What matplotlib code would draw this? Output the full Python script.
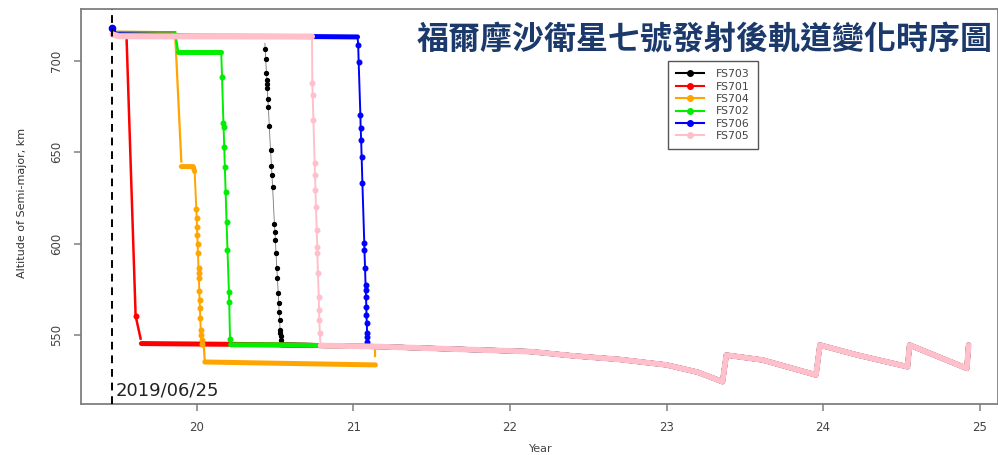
import matplotlib
matplotlib.use("Agg")
import matplotlib.pyplot as plt
from matplotlib.lines import Line2D

plt.rcParams['font.family'] = ['DejaVu Sans']

# ---------------- data (year offset since 2000, altitude km) ----------------
launch_year = 19.458
launch_label = "2019/06/25"
title_text = "福爾摩沙衛星七號發射後軌道變化時序圖"
names = ["FS703", "FS701", "FS704", "FS702", "FS706", "FS705"]
colors = ["black", "red", "orange", "#00ee00", "#0000ff", "pink"]

# shared mission-orbit track (after orbit raising / lowering)
common_t = [19.645, 20.2, 20.5, 20.79, 21.17, 21.49, 21.81, 22.13, 22.40, 22.70,
            23.00, 23.20, 23.358, 23.382, 23.614, 23.955, 23.98, 24.22, 24.54,
            24.553, 24.919, 24.93]
common_alt = [545.3, 544.9, 544.6, 544.2, 543.6, 542.7, 541.8, 540.9, 538.6, 536.6,
              533.6, 529.6, 524.4, 539.0, 536.3, 528.1, 544.5, 539.0, 532.6,
              544.5, 531.7, 544.5]

# FS703 (black)
fs703_park_t = [19.46, 20.434]
fs703_park_alt = [713.6, 713.4]
fs703_drop_t = [20.434, 20.436, 20.439, 20.444, 20.447, 20.448, 20.449, 20.453, 20.456,
                20.462, 20.470, 20.476, 20.479, 20.483, 20.495, 20.498, 20.501, 20.505,
                20.510, 20.514, 20.519, 20.522, 20.525, 20.528, 20.531, 20.532, 20.534,
                20.535]
fs703_drop_alt = [709.7, 706.4, 701.0, 693.3, 689.6, 687.5, 685.1, 679.2, 675.0,
                  664.4, 651.3, 642.5, 637.6, 631.2, 610.8, 606.6, 602.1, 594.8,
                  586.5, 581.1, 572.9, 567.4, 562.8, 558.3, 552.8, 551.0, 549.2, 547.3]
fs703_join = (20.54, 544.6)

# FS701 (red)
fs701_park_t = [19.46, 19.55]
fs701_park_alt = [713.8, 713.0]
fs701_drop_t = [19.55, 19.608, 19.64]
fs701_drop_alt = [713.0, 560.4, 548.0]
fs701_join = (19.645, 545.3)

# FS704 (orange)
fs704_park_t = [19.46, 19.86]
fs704_park_alt = [716.0, 715.8]
fs704_drop1_t = [19.86, 19.90]
fs704_drop1_alt = [715.8, 645.0]
fs704_mid_t = [19.90, 19.976, 19.985]
fs704_mid_alt = [642.2, 642.2, 639.5]
fs704_drop_t = [19.985, 19.996, 19.998, 20.000, 20.002, 20.004, 20.006, 20.010, 20.011,
                20.012, 20.015, 20.017, 20.019, 20.021, 20.024, 20.025, 20.030, 20.035,
                20.045]
fs704_drop_alt = [639.5, 618.8, 613.9, 609.3, 604.8, 599.8, 594.7, 586.5, 583.8,
                  581.0, 574.3, 569.2, 564.6, 559.1, 552.7, 550.0, 547.0, 545.0, 542.5]
fs704_low_t = [20.045, 20.05, 21.14]
fs704_low_alt = [542.5, 535.2, 533.6]
fs704_tail_t = [21.135, 21.135]
fs704_tail_alt = [538.5, 541.5]

# FS702 (green)
fs702_park_t = [19.46, 19.86, 19.875, 19.88, 20.155]
fs702_park_alt = [716.0, 715.8, 707.0, 705.1, 705.1]
fs702_drop_t = [20.155, 20.160, 20.169, 20.170, 20.174, 20.178, 20.183, 20.189, 20.195,
                20.204, 20.206, 20.211]
fs702_drop_alt = [705.1, 691.4, 665.9, 664.1, 653.1, 642.2, 628.5, 612.0, 596.5,
                  573.7, 568.2, 548.0]
fs702_join = (20.215, 544.6)

# FS706 (blue)
fs706_park_t = [19.46, 19.475, 20.0, 20.74, 21.026]
fs706_park_alt = [718.0, 714.4, 713.6, 713.4, 713.2]
fs706_drop_t = [21.026, 21.030, 21.033, 21.044, 21.046, 21.049, 21.052, 21.057, 21.069,
                21.070, 21.074, 21.077, 21.078, 21.080, 21.082, 21.083, 21.085, 21.087,
                21.087, 21.088]
fs706_drop_alt = [713.2, 708.8, 699.7, 670.5, 663.2, 656.8, 647.6, 633.1, 600.2,
                  596.5, 586.5, 577.4, 574.6, 571.0, 565.5, 561.0, 556.4, 550.9,
                  549.1, 546.3]
fs706_join = (21.09, 543.8)

# FS705 (pink)
fs705_park_t = [19.46, 19.50, 20.735]
fs705_park_alt = [714.6, 713.6, 713.4]
fs705_drop_t = [20.735, 20.737, 20.739, 20.744, 20.752, 20.754, 20.757, 20.760, 20.765,
                20.768, 20.769, 20.773, 20.778, 20.780, 20.782, 20.785]
fs705_drop_alt = [713.4, 687.8, 681.4, 667.7, 644.0, 637.6, 629.4, 620.3, 607.5,
                  598.4, 594.7, 583.8, 571.0, 563.7, 558.2, 550.9]
fs705_join = (20.79, 544.2)

x_ticks = [20, 21, 22, 23, 24, 25]
y_ticks = [550, 600, 650, 700]

# ---------------- figure ----------------
fig = plt.figure(figsize=(9.98, 4.55), dpi=100)
ax = fig.add_axes([81 / 998, 51 / 455, 917 / 998, 395 / 455])
ax.set_xlim(19.259, 25.118)
ax.set_ylim(512.2, 728.5)

DENSE = 3.6
SPARSE = 1.4
MS = 3.3


def tail_from(join):
    tt = [join[0]] + [t for t in common_t if t > join[0]]
    aa = [join[1]] + [a for t, a in zip(common_t, common_alt) if t > join[0]]
    return tt, aa


def dense(t, a, c, z, lw=DENSE):
    ax.plot(t, a, color=c, lw=lw, solid_capstyle='round', solid_joinstyle='round', zorder=z)


def sparse(t, a, c, z, lw=SPARSE, ms=MS, lc=None, mk=True):
    ax.plot(t, a, color=lc or c, lw=lw, zorder=z)
    if mk:
        ax.plot(t[1:-1], a[1:-1], ls='none', marker='o', ms=ms, color=c, mec=c, zorder=z)


# FS703 black
z = 2
dense(fs703_park_t, fs703_park_alt, 'black', z, lw=1.2)
sparse(fs703_drop_t + [fs703_join[0]], fs703_drop_alt + [fs703_join[1]], 'black', z,
       lw=0.6, ms=2.8, lc='#777777')
tt, aa = tail_from(fs703_join)
dense(tt, aa, 'black', z)

# FS701 red
z = 3
dense(fs701_park_t, fs701_park_alt, 'red', z, lw=1.5)
sparse(fs701_drop_t, fs701_drop_alt, 'red', z, lw=1.8)
tt, aa = tail_from(fs701_join)
dense(tt, aa, 'red', z)

# FS704 orange
z = 4
dense(fs704_park_t, fs704_park_alt, 'orange', z, lw=1.6)
sparse(fs704_drop1_t, fs704_drop1_alt, 'orange', z, lw=1.6, mk=False)
dense(fs704_mid_t, fs704_mid_alt, 'orange', z)
sparse(fs704_drop_t, fs704_drop_alt, 'orange', z)
dense(fs704_low_t[1:], fs704_low_alt[1:], 'orange', z)
sparse(fs704_low_t[:2], fs704_low_alt[:2], 'orange', z, lw=1.6, mk=False)
sparse(fs704_tail_t, fs704_tail_alt, 'orange', z, lw=1.6, mk=False)

# FS702 green
z = 5
g = '#00ee00'
dense(fs702_park_t[:2], fs702_park_alt[:2], '#7a9a30', z, lw=1.6)
sparse(fs702_park_t[1:4], fs702_park_alt[1:4], g, z, lw=1.8, mk=False)
dense(fs702_park_t[3:], fs702_park_alt[3:], g, z)
sparse(fs702_drop_t + [fs702_join[0]], fs702_drop_alt + [fs702_join[1]], g, z)
tt, aa = tail_from(fs702_join)
dense(tt, aa, g, z)

# FS706 blue
z = 6
b = '#0000ff'
dense(fs706_park_t, fs706_park_alt, b, z, lw=DENSE)
ax.plot(fs706_park_t[:1], fs706_park_alt[:1], marker='o', ms=4.5, color=b, zorder=z)
sparse(fs706_drop_t + [fs706_join[0]], fs706_drop_alt + [fs706_join[1]], b, z)
tt, aa = tail_from(fs706_join)
dense(tt, aa, b, z)

# FS705 pink
z = 7
p = '#ffc0cb'
dense(fs705_park_t, fs705_park_alt, p, z, lw=DENSE + 0.8)
sparse(fs705_drop_t + [fs705_join[0]], fs705_drop_alt + [fs705_join[1]], p, z)
tt, aa = tail_from(fs705_join)
dense(tt, aa, p, z, lw=DENSE + 0.6)

# launch date line
ax.axvline(launch_year, color='black', lw=1.4, ls=(0, (4, 3)), zorder=8)
ax.text(launch_year + 0.025, 519.5, launch_label, fontsize=13, color='#222222',
        ha='left', va='center', zorder=9)

# axes styling (R-like)
for s in ax.spines.values():
    s.set_color('#7f7f7f')
    s.set_linewidth(1.3)
ax.set_xticks(x_ticks)
ax.set_xticklabels([str(v) for v in x_ticks])
ax.set_yticks(y_ticks)
ax.set_yticklabels([str(v) for v in y_ticks], rotation=90, va='center')
ax.tick_params(axis='both', direction='out', length=5, width=1.1, color='#7f7f7f',
               labelsize=8.5, labelcolor='#444444')
ax.tick_params(axis='x', pad=7)
ax.tick_params(axis='y', pad=8)

fig.text(22 / 998, 1 - 203 / 455, "Altitude of Semi-major, km", rotation=90,
         fontsize=8, color='#333333', ha='center', va='center')
fig.text(541 / 998, 1 - 449 / 455, "Year", fontsize=8, color='#444444',
         ha='center', va='center')

# title inside the plot box
fig.text(705 / 998, 1 - 40 / 455, title_text, fontsize=23, fontweight='bold',
         color='#1b3a6b', ha='center', va='center',
         family=['Noto Sans CJK TC', 'DejaVu Sans'])

# legend
handles = [Line2D([0], [0], color=c, lw=1.5, marker='o', ms=4, mec=c) for c in colors]
leg = ax.legend(handles, names, loc='upper left', bbox_to_anchor=(0.640, 0.868),
                borderaxespad=0, fontsize=7.8, frameon=True, fancybox=False,
                handlelength=2.6, handletextpad=1.1, labelspacing=0.22,
                borderpad=0.75, edgecolor='#555555', framealpha=1)
leg.get_frame().set_linewidth(1.0)
for t in leg.get_texts():
    t.set_color('#444444')
leg.set_zorder(10)

fig.savefig("out.png", dpi=100)
